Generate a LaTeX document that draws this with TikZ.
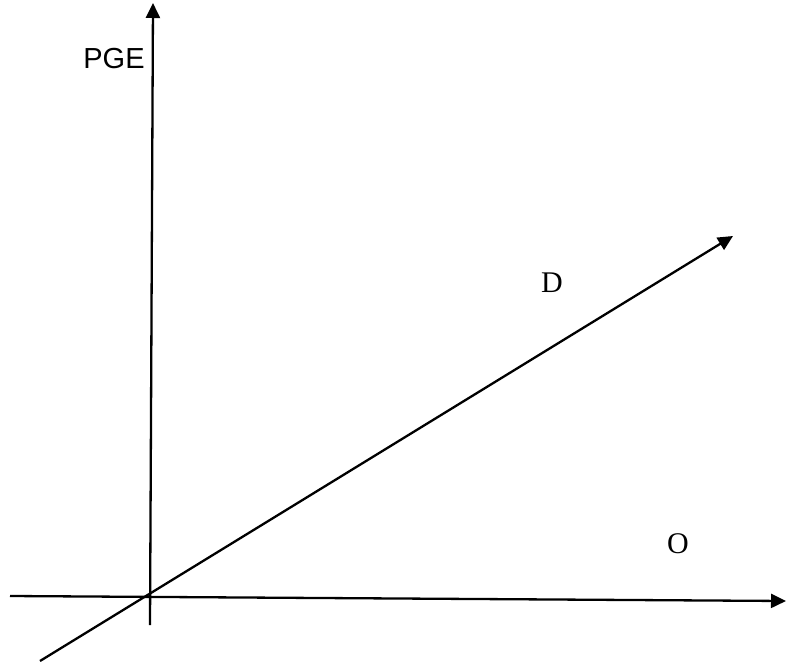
\documentclass[tikz,border=0pt]{standalone}
\usepackage{fontspec}
\setmainfont{Liberation Serif}
\newfontfamily\arialfont{Liberation Sans}
\usetikzlibrary{arrows.meta}
\tikzset{
  axis/.style={-{Triangle[length=15pt,width=14pt]},line width=2.3pt,black},
  lab/.style={inner sep=0pt,font=\fontsize{30}{36}\selectfont},       % curve label
  axlab/.style={inner sep=0pt,font=\arialfont\fontsize{29}{34}\selectfont},% axis label
}

\begin{document}
\begin{tikzpicture}[x=1pt,y=-1pt]
  \useasboundingbox (0,0) rectangle (786,663);
  % axes
  \coordinate (ybot) at (150,625);
  \coordinate (ytop) at (153,3);
  \coordinate (xleft) at (10,596);
  \coordinate (xright) at (786,601);
  \coordinate (dstart) at (40,661);
  \coordinate (dend) at (733,236);
  \draw[axis] (ybot) -- (ytop);
  \draw[axis] (xleft) -- (xright);
  \draw[axis] (dstart) -- (dend);
  % labels
  \node[axlab] (pge) at (114,59) {PGE};
  \node[lab] (d) at (552,283) {D};
  \node[lab] (o) at (678,544) {O};
\end{tikzpicture}
\end{document}
